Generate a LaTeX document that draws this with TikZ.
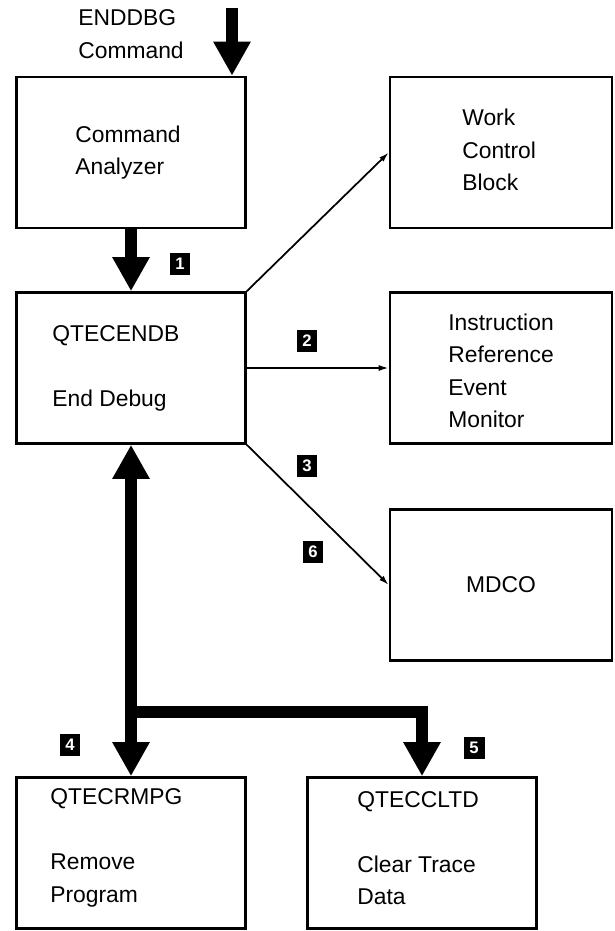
\documentclass[tikz,border=0pt]{standalone}
\usepackage{fontspec}
\setmainfont{Liberation Sans}
\usetikzlibrary{arrows.meta}
\def\boxwidth{4.58cm}
\def\sideboxwidth{4.44cm}
\def\boxheight{3.02cm}
\def\shaftwidth{0.24cm}
\tikzset{bigtip/.tip={Triangle[width=0.7cm, length=0.68cm]}}

\begin{document}
\begin{tikzpicture}[x=0.02cm, y=-0.02cm,
    box/.style={draw, line width=1.5pt, minimum width=\boxwidth, minimum height=\boxheight, inner sep=0pt, font=\fontsize{13}{18.5}\selectfont},
    sidebox/.style={box, minimum width=\sideboxwidth},
    txt/.style={anchor=west, align=left, inner sep=0pt, font=\fontsize{13}{18.5}\selectfont},
    numtag/.style={fill=black, text=white, minimum width=0.42cm, minimum height=0.44cm, inner sep=0pt, font=\fontsize{9.5}{9.5}\selectfont\bfseries},
    bigarrow/.style={line width=\shaftwidth, -{bigtip}},
    thinarrow/.style={line width=1pt, -{Latex[length=0.2cm, width=0.12cm]}}]
    \useasboundingbox (0,0) rectangle (615,931);
    % command input
    \node[txt] (cmdname) at (78,34) {ENDDBG\\Command};
    \coordinate (cmdin) at (232,8);
    % left column
    \node[box] (analyzer) at (131,152.5) {};
    \node[txt] (analyzer-text) at (75,152.5) {Command\\Analyzer};
    \node[box] (endb) at (131,368) {};
    \node[txt] (endb-text) at (52,368) {QTECENDB\\[18.5pt]End Debug};
    % right column
    \node[sidebox] (wcb) at (501,152.5) {};
    \node[txt] (wcb-text) at (462,150) {Work\\Control\\Block};
    \node[sidebox] (irem) at (501,368) {};
    \node[txt] (irem-text) at (448,371) {Instruction\\Reference\\Event\\Monitor};
    \node[sidebox] (mdco) at (501,585) {MDCO};
    % bottom row
    \node[box] (rmpg) at (131,853) {};
    \node[txt] (rmpg-text) at (50,848) {QTECRMPG\\[18.5pt]Remove\\Program};
    \node[box] (cltd) at (422,853) {};
    \node[txt] (cltd-text) at (357,848) {QTECCLTD\\[18.5pt]Clear Trace\\Data};
    % thick arrows
    \draw[bigarrow] (cmdin) -- (cmdin |- analyzer.north);
    \draw[bigarrow] (analyzer.south) -- (endb.north);
    \draw[bigarrow, {bigtip}-{bigtip}] (endb.south) -- (rmpg.north);
    \coordinate (fork) at (131,712);
    \draw[bigarrow] (fork) -| (cltd.north);
    % thin arrows
    \draw[thinarrow] (endb.north east) -- (wcb.west);
    \draw[thinarrow] (endb.east) -- (irem.west);
    \draw[thinarrow] (endb.south east) -- (mdco.west);
    % step numbers
    \node[numtag] (tag1) at (180,264) {1};
    \node[numtag] (tag2) at (307,341) {2};
    \node[numtag] (tag3) at (307,466) {3};
    \node[numtag] (tag6) at (313,552) {6};
    \node[numtag] (tag4) at (70,745) {4};
    \node[numtag] (tag5) at (474,748) {5};
\end{tikzpicture}
\end{document}
